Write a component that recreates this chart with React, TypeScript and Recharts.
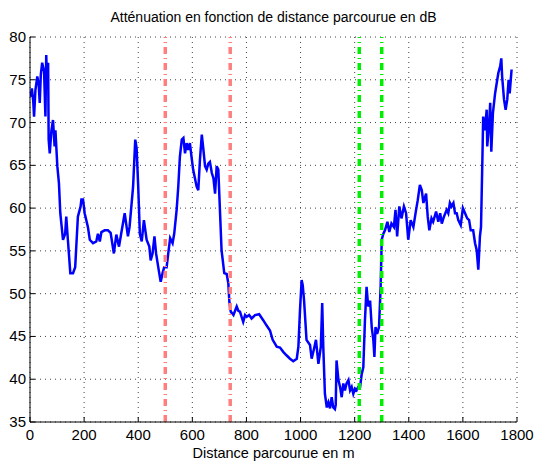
import React from 'react';
import { LineChart, Line, XAxis, YAxis, CartesianGrid, ReferenceLine } from 'recharts';

const distance = [2,7,12,15,20,27,32,36,40,45,52,57,60,64,67,69,73,79,85,91,94,101,107,112,122,130,134,140,149,159,167,177,187,190,196,202,214,221,233,245,251,258,264,276,288,298,310,319,329,337,350,362,368,381,389,394,400,406,413,421,431,441,446,453,460,466,474,483,490,496,505,511,518,527,533,542,548,554,561,567,573,579,585,591,597,603,616,622,628,635,641,647,653,659,665,672,678,684,690,696,708,718,727,733,737,742,752,758,764,770,776,788,795,801,810,819,832,847,862,874,887,897,912,924,936,948,961,973,986,992,998,1004,1008,1013,1022,1035,1041,1050,1057,1066,1075,1080,1084,1090,1097,1103,1109,1115,1121,1127,1130,1133,1140,1146,1152,1158,1164,1170,1177,1183,1189,1195,1201,1207,1213,1220,1226,1232,1238,1244,1250,1257,1263,1269,1273,1277,1283,1290,1296,1300,1306,1312,1321,1328,1336,1345,1351,1357,1365,1373,1382,1390,1398,1407,1417,1427,1433,1441,1448,1454,1464,1470,1476,1484,1490,1501,1509,1516,1522,1530,1540,1546,1552,1558,1565,1571,1577,1583,1592,1600,1608,1616,1623,1629,1638,1645,1651,1657,1663,1667,1672,1675,1681,1688,1690,1697,1701,1705,1711,1719,1727,1731,1738,1742,1745,1752,1758,1764,1769,1773,1780];

const attenuation = [73.0,74.0,72.5,70.7,73.8,75.4,74.5,72.3,75.6,77.0,76.0,70.7,77.9,74.0,77.0,68.0,66.4,69.0,70.3,67.2,69.1,64.9,62.9,59.4,56.3,57.0,59.0,56.3,52.4,52.4,53.1,59.0,60.2,61.0,61.0,59.4,57.8,56.3,55.9,56.1,57.0,56.1,57.2,57.4,57.4,57.1,54.7,56.9,55.5,57.0,59.4,56.7,57.8,62.5,68.0,67.0,62.5,57.0,56.1,58.6,56.3,55.5,53.9,54.7,56.7,54.7,53.1,51.4,52.4,53.1,53.1,54.7,56.5,55.9,57.0,59.8,62.5,66.0,68.0,68.2,66.4,67.6,66.8,67.6,66.0,64.5,62.5,62.1,65.6,68.6,66.8,64.9,64.5,65.2,65.4,64.1,63.5,61.7,64.9,64.5,55.1,52.4,52.3,51.2,49.0,47.9,47.5,48.0,48.5,48.0,47.9,46.7,47.5,47.3,47.5,47.1,47.5,47.6,46.9,46.3,45.7,44.6,43.8,43.7,43.2,42.8,42.4,42.1,42.4,43.8,48.1,51.6,51.0,49.2,44.6,44.0,42.4,43.6,44.6,41.8,43.8,48.9,43.8,38.3,36.7,37.3,36.6,37.9,36.7,36.5,37.0,42.2,39.9,39.1,37.9,39.5,38.7,39.5,39.9,38.7,39.1,38.3,38.9,38.7,39.1,39.1,40.6,41.4,46.9,50.8,48.5,49.2,46.1,44.6,42.6,46.1,45.3,46.1,50.8,56.3,57.0,57.4,58.4,57.2,58.2,57.8,59.8,56.7,60.2,58.8,60.2,59.4,56.3,58.6,57.8,59.8,60.9,62.7,62.1,60.6,61.7,59.0,57.4,58.8,58.4,59.6,58.4,59.4,58.2,59.0,59.8,59.4,60.6,60.2,60.6,59.4,59.4,58.6,58.0,60.0,59.4,58.8,58.6,57.4,57.4,55.9,55.1,52.8,56.7,57.8,65.6,70.7,69.1,71.5,67.2,69.9,72.3,66.6,71.1,73.4,75.0,75.8,76.6,77.5,75.4,72.7,71.5,72.7,75.0,73.4,76.2];

const xTicks = [0,200,400,600,800,1000,1200,1400,1600,1800];
const yTicks = [35,40,45,50,55,60,65,70,75,80];
const redMarkers = [500, 740];
const greenMarkers = [1217, 1300];

const title = 'Atténuation en fonction de distance parcourue en dB';
const xLabel = 'Distance parcourue en m';

const data = distance.map((d, i) => ({ d, a: attenuation[i] }));

const FONT = '"Liberation Sans", Arial, Helvetica, sans-serif';

const BottomTick = (props: any) => {
  const { x, y, payload } = props;
  return (
    <g>
      <line x1={x} x2={x} y1={y} y2={y - 5} stroke="#000" strokeWidth={1} />
      <text x={x} y={y + 18} textAnchor="middle" fontSize={15} fill="#000" fontFamily={FONT}>{payload.value}</text>
    </g>
  );
};
const TopTick = (props: any) => {
  const { x, y } = props;
  return <line x1={x} x2={x} y1={y} y2={y + 5} stroke="#000" strokeWidth={1} />;
};
const LeftTick = (props: any) => {
  const { x, y, payload } = props;
  return (
    <g>
      <line x1={x} x2={x + 5} y1={y} y2={y} stroke="#000" strokeWidth={1} />
      <text x={x - 4} y={y + 5} textAnchor="end" fontSize={15} fill="#000" fontFamily={FONT}>{payload.value}</text>
    </g>
  );
};
const RightTick = (props: any) => {
  const { x, y } = props;
  return <line x1={x} x2={x - 5} y1={y} y2={y} stroke="#000" strokeWidth={1} />;
};

export default function App() {
  return (
    <div style={{ position: 'absolute', left: 0, top: 0, width: 535, height: 468, background: '#fff' }}>
      <div style={{ position: 'absolute', left: 30, width: 487, top: 9, textAlign: 'center', fontFamily: FONT, fontSize: 14, color: '#000' }}>{title}</div>
      <div style={{ position: 'absolute', left: 30, width: 487, top: 445, textAlign: 'center', fontFamily: FONT, fontSize: 14.5, color: '#000' }}>{xLabel}</div>
      <LineChart width={535} height={468} data={data} margin={{ top: 37, right: 18, bottom: 0, left: 0 }}>
        <CartesianGrid stroke="#444" strokeDasharray="1 4" strokeWidth={1} />
        <XAxis dataKey="d" type="number" domain={[0, 1800]} ticks={xTicks} height={46} tickSize={0} tickMargin={0} tickLine={false} stroke="#000" tick={<BottomTick />} interval={0} allowDataOverflow />
        <XAxis xAxisId="top" orientation="top" dataKey="d" type="number" domain={[0, 1800]} ticks={xTicks} height={0} tickSize={0} tickMargin={0} tickLine={false} stroke="#000" tick={<TopTick />} interval={0} allowDataOverflow />
        <YAxis type="number" domain={[35, 80]} ticks={yTicks} width={30} tickSize={0} tickMargin={0} tickLine={false} stroke="#000" tick={<LeftTick />} interval={0} allowDataOverflow />
        <YAxis yAxisId="right" orientation="right" type="number" domain={[35, 80]} ticks={yTicks} width={0} tickSize={0} tickMargin={0} tickLine={false} stroke="#000" tick={<RightTick />} interval={0} allowDataOverflow />
        <Line dataKey="a" type="linear" stroke="#0000ff" strokeWidth={2.5} dot={false} isAnimationActive={false} />
        {redMarkers.map((m) => (
          <ReferenceLine key={'r' + m} x={m} stroke="#ff7f7f" strokeWidth={3.5} strokeDasharray="7 4 1 4" />
        ))}
        {greenMarkers.map((m) => (
          <ReferenceLine key={'g' + m} x={m} stroke="#00ee00" strokeWidth={3.5} strokeDasharray="7 4 1 4" />
        ))}
      </LineChart>
    </div>
  );
}
